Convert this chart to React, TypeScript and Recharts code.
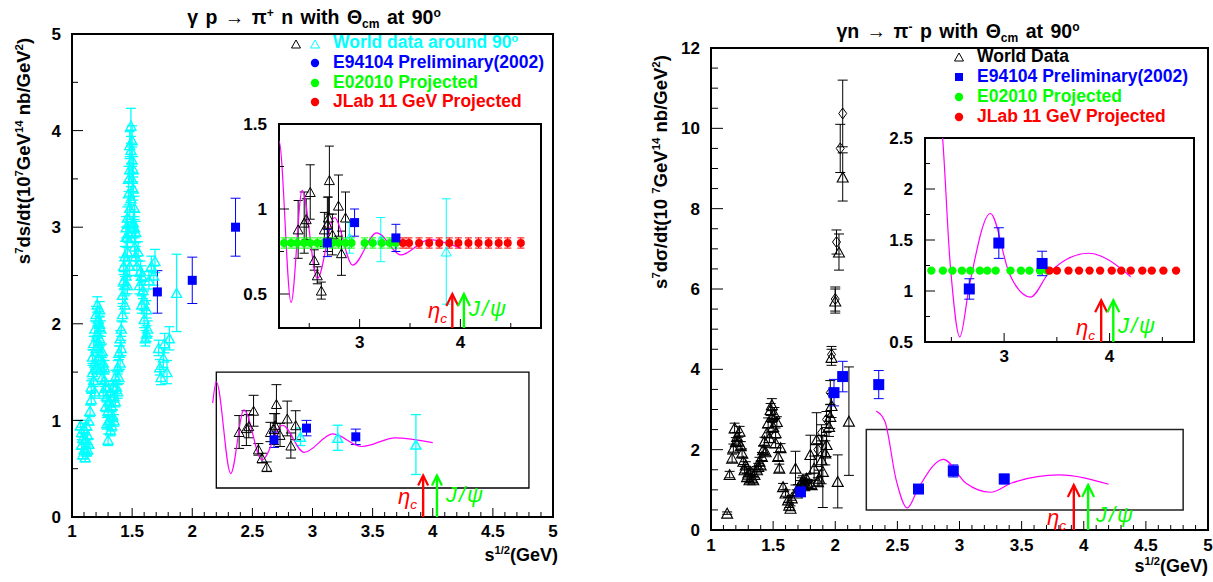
import React from 'react';
import { ComposedChart, Scatter, Line, XAxis, YAxis, ErrorBar, ReferenceArea } from 'recharts';

const FONT = '"Liberation Sans", Arial, Helvetica, sans-serif';
const CYAN = '#00ffff';
const BLUE = '#0000ff';
const GREEN = '#00ff00';
const RED = '#ff0000';
const MAGENTA = '#ff00ff';

type P = { x: number; y: number; e: number };
const pts = (a: number[][]): P[] => a.map(([x, y, e]) => ({ x, y, e: e ?? 0 }));

// ---------- LEFT PANEL : gamma p -> pi+ n ----------
const leftCyanWorld = [
  [1.07,0.95,0.05],[1.08,0.75,0.05],[1.08,0.88,0.05],[1.09,0.65,0.05],[1.09,0.82,0.05],[1.10,0.70,0.05],[1.10,0.92,0.05],
  [1.11,0.80,0.05],[1.11,0.62,0.05],[1.12,0.68,0.05],[1.12,0.95,0.05],[1.13,0.85,0.05],[1.13,0.70,0.05],[1.14,0.76,0.05],
  [1.14,1.00,0.05],[1.15,1.10,0.06],[1.16,1.22,0.06],[1.16,1.35,0.06],[1.17,1.50,0.07],[1.17,1.66,0.07],[1.18,1.80,0.07],
  [1.18,1.42,0.07],[1.19,1.95,0.08],[1.19,1.60,0.07],[1.19,1.30,0.07],[1.20,2.10,0.08],[1.20,1.75,0.08],[1.20,1.55,0.07],
  [1.21,2.20,0.08],[1.21,1.90,0.08],[1.22,2.05,0.08],[1.22,1.80,0.08],[1.22,1.65,0.07],[1.23,1.85,0.08],[1.23,2.15,0.08],
  [1.23,2.00,0.08],[1.24,1.55,0.07],[1.24,1.95,0.08],[1.24,1.70,0.08],[1.25,1.72,0.07],[1.25,1.45,0.07],[1.26,1.60,0.07],
  [1.26,1.30,0.07],[1.27,1.42,0.07],[1.27,1.55,0.07],[1.28,1.15,0.06],[1.28,1.35,0.06],[1.29,1.25,0.06],[1.29,0.97,0.06],
  [1.30,1.10,0.06],[1.30,0.80,0.06],[1.31,1.20,0.06],[1.31,1.00,0.06],[1.32,1.30,0.06],[1.32,0.90,0.06],[1.33,1.15,0.06],
  [1.33,0.95,0.06],[1.34,1.35,0.06],[1.34,1.05,0.06],[1.35,1.25,0.06],[1.35,1.00,0.06],[1.36,1.45,0.07],[1.36,1.20,0.06],
  [1.37,1.35,0.07],[1.38,1.55,0.07],[1.38,1.30,0.07],[1.39,1.70,0.07],[1.39,1.45,0.07],[1.40,1.60,0.07],[1.40,1.85,0.08],
  [1.41,1.95,0.08],[1.41,1.75,0.08],[1.42,2.10,0.08],[1.42,2.30,0.09],[1.43,2.45,0.09],[1.43,2.60,0.09],[1.44,2.70,0.10],
  [1.44,2.20,0.09],[1.44,2.40,0.09],[1.45,2.90,0.10],[1.45,2.50,0.10],[1.45,3.00,0.11],[1.46,3.10,0.11],[1.46,2.75,0.10],
  [1.46,2.90,0.11],[1.46,2.40,0.09],[1.47,3.35,0.12],[1.47,2.95,0.11],[1.47,3.50,0.13],[1.48,3.60,0.13],[1.48,3.20,0.12],
  [1.48,3.85,0.14],[1.48,2.60,0.10],[1.49,3.80,0.14],[1.49,4.05,0.18],[1.49,3.30,0.12],[1.50,3.50,0.13],[1.50,3.70,0.13],
  [1.50,3.90,0.15],[1.50,3.00,0.11],[1.51,3.40,0.12],[1.51,3.05,0.11],[1.51,3.60,0.13],[1.52,3.20,0.12],[1.52,2.80,0.11],
  [1.52,3.00,0.11],[1.53,2.95,0.11],[1.53,2.70,0.10],[1.54,2.60,0.10],[1.55,2.75,0.10],[1.56,2.40,0.09],[1.57,2.55,0.10],
  [1.58,2.20,0.09],[1.58,2.50,0.10],[1.59,2.35,0.09],[1.60,2.05,0.09],[1.60,2.25,0.09],[1.61,1.85,0.08],[1.62,2.15,0.09],
  [1.62,1.90,0.08],[1.63,1.95,0.08],[1.64,2.45,0.09],[1.66,2.60,0.10],[1.68,2.50,0.10],[1.69,2.65,0.12],[1.72,1.75,0.08],
  [1.73,1.55,0.08],[1.74,1.45,0.08],[1.76,1.65,0.10],[1.77,1.80,0.10],[1.79,1.50,0.12],[1.81,1.85,0.12],[1.87,2.32,0.40],
  [2.90,0.83,0.09],[3.21,0.82,0.13],[3.86,0.75,0.31],
];
const leftBlackWorld = [
  [2.39,0.88,0.17],[2.45,0.92,0.18],[2.47,0.94,0.12],[2.51,1.10,0.16],[2.55,0.70,0.06],[2.58,0.61,0.05],[2.62,0.52,0.05],
  [2.65,0.88,0.10],[2.68,0.91,0.16],[2.69,0.95,0.12],[2.70,1.17,0.20],[2.73,0.85,0.12],[2.79,1.02,0.18],[2.82,0.74,0.13],
  [2.86,0.95,0.15],
];
const leftE94104 = [[1.71,2.33,0.22],[2.00,2.45,0.24],[2.36,3.00,0.30],[2.68,0.80,0.08],[2.95,0.92,0.08],[3.36,0.83,0.08]];
const leftE02010X = [2.25,2.32,2.38,2.45,2.51,2.58,2.64,2.73,2.79,2.86,2.92,3.05,3.13,3.22,3.30,3.36];
const leftJLabX = [3.43,3.49,3.59,3.69,3.79,3.89,3.98,4.08,4.18,4.28,4.38,4.47,4.60];
const leftProjectedY = 0.8;
const leftCurve = [[2.17,1.18],[2.20,1.40],[2.32,0.45],[2.43,1.11],[2.58,0.59],[2.75,0.95],[2.93,0.67],[3.17,0.86],[3.41,0.73],[3.69,0.82],[4.00,0.77]];

// ---------- RIGHT PANEL : gamma n -> pi- p ----------
const rightTriWorld = [
  [1.13,0.42,0.03],[1.15,1.38,0.08],[1.17,1.79,0.10],[1.18,2.04,0.10],[1.19,2.54,0.12],[1.20,2.20,0.10],[1.21,2.33,0.10],
  [1.22,2.21,0.10],[1.23,2.46,0.12],[1.24,2.10,0.10],[1.25,1.92,0.10],[1.26,1.71,0.08],[1.27,1.50,0.08],[1.28,1.62,0.08],
  [1.29,1.33,0.08],[1.30,1.42,0.08],[1.31,1.25,0.08],[1.32,1.46,0.08],[1.33,1.30,0.08],[1.34,1.25,0.08],[1.35,1.38,0.08],
  [1.37,1.50,0.08],[1.38,1.58,0.08],[1.39,1.71,0.10],[1.40,1.62,0.10],[1.41,1.83,0.10],[1.42,2.00,0.10],[1.43,2.21,0.10],
  [1.44,1.95,0.10],[1.45,2.42,0.12],[1.46,2.67,0.12],[1.47,2.30,0.12],[1.48,3.00,0.15],[1.49,3.12,0.15],[1.49,2.83,0.15],
  [1.50,2.58,0.15],[1.51,2.90,0.15],[1.52,2.42,0.12],[1.52,2.17,0.12],[1.53,2.70,0.12],[1.54,1.83,0.10],[1.55,1.54,0.10],
  [1.56,2.05,0.10],[1.58,1.08,0.08],[1.60,0.92,0.08],[1.62,0.75,0.06],[1.63,0.62,0.06],[1.64,0.54,0.06],[1.65,0.80,0.06],
  [1.68,1.54,0.42],[1.69,0.92,0.08],[1.70,1.05,0.08],[1.72,1.13,0.10],[1.73,1.20,0.10],[1.74,1.25,0.10],[1.75,1.10,0.10],
  [1.76,1.17,0.10],[1.77,1.29,0.10],[1.78,1.15,0.10],[1.80,1.88,0.48],[1.81,1.13,0.10],[1.83,1.54,0.30],[1.85,2.25,0.67],
  [1.86,1.20,0.10],[1.87,1.29,0.20],[1.89,1.75,0.60],[1.90,1.46,0.90],[1.92,1.92,0.30],[1.93,2.13,0.30],[1.95,2.58,0.25],
  [1.96,2.83,0.30],[1.97,3.10,0.30],[1.97,4.30,0.20],[2.00,5.70,0.30],[2.02,1.21,0.66],[2.03,6.92,0.45],[2.06,8.79,0.60],
  [2.11,2.71,1.35],
];
const rightDiaWorld = [[1.86,2.00,0.15],[1.89,2.42,0.20],[1.93,2.75,0.20],[1.96,3.42,0.30],[1.97,4.37,0.20],[2.00,5.75,0.30],[2.01,7.17,0.30],[2.04,9.50,0.60],[2.06,10.37,0.83]];
const rightE94104 = [[1.72,0.95,0.08],[1.99,3.42,0.33],[2.06,3.82,0.38],[2.35,3.62,0.35],[2.67,1.02,0.10],[2.95,1.47,0.15],[3.36,1.27,0.12]];
const rightE02010X = [2.31,2.42,2.51,2.60,2.68,2.77,2.84,2.92,3.06,3.16,3.24,3.34,3.41];
const rightJLabX = [3.43,3.50,3.61,3.71,3.81,3.91,4.02,4.11,4.20,4.31,4.40,4.51,4.63];
const rightProjectedY = 1.2;
const rightCurve = [[2.33,2.96],[2.40,2.70],[2.49,1.25],[2.58,0.55],[2.67,1.05],[2.87,1.76],[3.05,1.17],[3.25,0.94],[3.42,1.17],[3.80,1.37],[4.20,1.14]];

// thresholds (arrows): eta_c and J/psi
const etaCX = 3.92;
const jpsiX = 4.035;
const leftMainArrowTip = 0.43;
const leftInsetArrowTip = 0.5;
const rightMainArrowTip = 1.12;
const rightInsetArrowTip = 0.91;

// tick labels
const mainXMajor = [1, 1.5, 2, 2.5, 3, 3.5, 4, 4.5, 5];
const leftYMajor = [0, 1, 2, 3, 4, 5];
const rightYMajor = [0, 2, 4, 6, 8, 10, 12];
const insetXMajor = [3, 4];
const leftInsetYMajor = [0.5, 1, 1.5];
const rightInsetYMajor = [0.5, 1, 1.5, 2, 2.5];

const steps = (a: number, b: number, s: number) => {
  const out: number[] = [];
  for (let v = a; v <= b + 1e-9; v += s) out.push(Math.round(v * 1000) / 1000);
  return out;
};

const toXY = (a: number[][]) => a.map(([x, y]) => ({ x, y }));
const flat = (xs: number[], y: number) => xs.map((x) => ({ x, y, e: 0.03 }));

// ---------- shapes ----------
const triShape = (color: string, w: number, h: number, sw = 1) => (p: any) => {
  const { cx, cy } = p;
  if (cx == null || cy == null) return <g />;
  return <path d={`M${cx - w / 2},${cy + h / 2}L${cx + w / 2},${cy + h / 2}L${cx},${cy - h / 2}Z`} fill="#fff" fillOpacity={0} stroke={color} strokeWidth={sw} />;
};
const diaShape = (color: string, w: number, h: number) => (p: any) => {
  const { cx, cy } = p;
  if (cx == null || cy == null) return <g />;
  return <path d={`M${cx},${cy - h / 2}L${cx + w / 2},${cy}L${cx},${cy + h / 2}L${cx - w / 2},${cy}Z`} fill="none" stroke={color} strokeWidth={1} />;
};
const sqShape = (color: string, s: number) => (p: any) => {
  const { cx, cy } = p;
  if (cx == null || cy == null) return <g />;
  return <rect x={cx - s / 2} y={cy - s / 2} width={s} height={s} fill={color} />;
};
const dotShape = (color: string, r: number) => (p: any) => {
  const { cx, cy } = p;
  if (cx == null || cy == null) return <g />;
  return <circle cx={cx} cy={cy} r={r} fill={color} />;
};
const headShape = (color: string, hw: number, hh: number) => (p: any) => {
  const { cx, cy } = p;
  if (cx == null || cy == null) return <g />;
  return <path d={`M${cx - hw},${cy + hh}L${cx},${cy}L${cx + hw},${cy + hh}`} fill="none" stroke={color} strokeWidth={2.2} />;
};

// ---------- ticks ----------
const makeTick = (axis: 'x' | 'y', majors: number[], majorLen: number, minorLen: number, gap: number, size = 17) => (props: any) => {
  const { x, y, payload } = props;
  const v = payload.value;
  const isMajor = majors.some((m) => Math.abs(m - v) < 1e-6);
  const len = isMajor ? majorLen : minorLen;
  const txt = { fontFamily: FONT, fontWeight: 'bold' as const, fontSize: size, fill: '#000' };
  if (axis === 'x') {
    return (
      <g>
        <line x1={x} y1={y} x2={x} y2={y - len} stroke="#000" strokeWidth={1} />
        {isMajor && <text x={x} y={y + gap} textAnchor="middle" {...txt}>{String(v)}</text>}
      </g>
    );
  }
  return (
    <g>
      <line x1={x} y1={y} x2={x + len} y2={y} stroke="#000" strokeWidth={1} />
      {isMajor && <text x={x - gap} y={y} dy="0.36em" textAnchor="end" {...txt}>{String(v)}</text>}
    </g>
  );
};

// ---------- series helpers ----------
const sc = (key: string, data: any[], shape: any, color: string, cap: number, err = true, ew = 1) => (
  <Scatter key={key} data={data} shape={shape} isAnimationActive={false}>
    {err ? <ErrorBar dataKey="e" direction="y" width={cap} stroke={color} strokeWidth={ew} /> : null}
  </Scatter>
);
const curve = (key: string, data: any[]) => (
  <Line key={key} data={data} dataKey="y" type="monotone" stroke={MAGENTA} strokeWidth={1.2} dot={false} activeDot={false} isAnimationActive={false} />
);
const arrow = (key: string, x: number, base: number, tip: number, color: string, hw: number, hh: number) => [
  <Line key={key + 's'} data={[{ x, y: base }, { x, y: tip }]} dataKey="y" type="linear" stroke={color} strokeWidth={2.4} dot={false} activeDot={false} isAnimationActive={false} />,
  <Scatter key={key + 'h'} data={[{ x, y: tip }]} shape={headShape(color, hw, hh)} isAnimationActive={false} />,
];
const frame = (x1: number, x2: number, y1: number, y2: number, w: number, color = '#000') => (
  <ReferenceArea x1={x1} x2={x2} y1={y1} y2={y2} fill="none" fillOpacity={0} stroke={color} strokeWidth={w} ifOverflow="visible" />
);

// ---------- text helpers ----------
const Sup = ({ children }: any) => <span style={{ fontSize: '0.62em', position: 'relative', top: '-0.6em' }}>{children}</span>;
const Sub = ({ children }: any) => <span style={{ fontSize: '0.62em', position: 'relative', top: '0.35em' }}>{children}</span>;
const T = ({ x, y, size = 17.5, color = '#000', anchor = 'start', italic = false, bold = true, children, rotate = false, ls = 0, ws = 0 }: any) => {
  let tr = anchor === 'middle' ? 'translate(-50%,-50%)' : anchor === 'end' ? 'translate(-100%,-50%)' : 'translate(0,-50%)';
  if (rotate) tr = 'translate(-50%,-50%) rotate(-90deg)';
  return (
    <div style={{ position: 'absolute', left: x, top: y, fontFamily: FONT, fontWeight: bold ? 'bold' : 'normal', fontStyle: italic ? 'italic' : 'normal', fontSize: size, color, whiteSpace: 'nowrap', lineHeight: 1, letterSpacing: ls, wordSpacing: ws, transform: tr }}>
      {children}
    </div>
  );
};
const Mk = ({ x, y, children }: any) => (
  <svg style={{ position: 'absolute', left: x - 7, top: y - 7 }} width={14} height={14}>
    <g transform="translate(7,7)">{children}</g>
  </svg>
);

export default function App() {
  const lCyan = pts(leftCyanWorld);
  const lBlack = pts(leftBlackWorld);
  const lBlue = pts(leftE94104);
  const lGreen = flat(leftE02010X, leftProjectedY);
  const lRed = flat(leftJLabX, leftProjectedY);
  const lCurve = toXY(leftCurve);
  const rTri = pts(rightTriWorld);
  const rDia = pts(rightDiaWorld);
  const rBlue = pts(rightE94104);
  const rGreen = flat(rightE02010X, rightProjectedY);
  const rRed = flat(rightJLabX, rightProjectedY);
  const rCurve = toXY(rightCurve);

  const axisCommon = { type: 'number' as const, interval: 0 as const, tickLine: false, axisLine: false, tickSize: 0, tickMargin: 0, allowDataOverflow: true };
  const greek = { size: 22, italic: true, bold: false };

  return (
    <div style={{ position: 'absolute', left: 0, top: 0, width: 1213, height: 582, background: '#fff', overflow: 'hidden' }}>
      {/* LEFT MAIN */}
      <div style={{ position: 'absolute', left: 0, top: 0 }}>
        <ComposedChart width={600} height={582} margin={{ top: 34, right: 47, bottom: 64, left: 71 }}>
          <XAxis {...axisCommon} dataKey="x" domain={[1, 5]} height={1} ticks={steps(1, 5, 0.1)} tick={makeTick('x', mainXMajor, 9, 5, 20)} />
          <YAxis {...axisCommon} dataKey="y" domain={[0, 5]} width={1} ticks={steps(0, 5, 0.5)} tick={makeTick('y', leftYMajor, 11, 6, 11)} />
          {frame(1, 5, 0, 5, 2)}
          {frame(2.2, 4.8, 0.3, 1.5, 1.3)}
          {sc('lc', lCyan, triShape(CYAN, 10, 9, 1.4), CYAN, 5, true, 1.3)}
          {sc('lk', lBlack, triShape('#000', 10, 9), '#000', 5)}
          {sc('lb', lBlue, sqShape(BLUE, 9), BLUE, 5)}
          {curve('lcv', lCurve)}
          {arrow('la1', etaCX, 0, leftMainArrowTip, RED, 5, 10)}
          {arrow('la2', jpsiX, 0, leftMainArrowTip, GREEN, 5, 10)}
        </ComposedChart>
      </div>

      {/* RIGHT MAIN */}
      <div style={{ position: 'absolute', left: 600, top: 0 }}>
        <ComposedChart width={613} height={582} margin={{ top: 48, right: 5, bottom: 51, left: 110 }}>
          <XAxis {...axisCommon} dataKey="x" domain={[1, 5]} height={1} ticks={steps(1, 5, 0.1)} tick={makeTick('x', mainXMajor, 9, 5, 21)} />
          <YAxis {...axisCommon} dataKey="y" domain={[0, 12]} width={1} ticks={steps(0, 12, 0.5)} tick={makeTick('y', rightYMajor, 12, 7, 11)} />
          {frame(1, 5, 0, 12, 2)}
          {frame(2.25, 4.8, 0.5, 2.5, 1.5, '#222')}
          {sc('rt', rTri, triShape('#000', 11, 10, 1.1), '#000', 5)}
          {sc('rd', rDia, diaShape('#000', 8, 11), '#000', 5)}
          {sc('rb', rBlue, sqShape(BLUE, 11), BLUE, 5)}
          {curve('rcv', rCurve)}
          {arrow('ra1', etaCX, 0, rightMainArrowTip, RED, 6, 12)}
          {arrow('ra2', jpsiX, 0, rightMainArrowTip, GREEN, 6, 12)}
        </ComposedChart>
      </div>

      {/* LEFT INSET */}
      <div style={{ position: 'absolute', left: 230, top: 110 }}>
        <ComposedChart width={330} height={250} margin={{ top: 14, right: 19, bottom: 31, left: 48 }}>
          <XAxis {...axisCommon} dataKey="x" domain={[2.2, 4.8]} height={1} ticks={[2.5, 3, 3.5, 4, 4.5]} tick={makeTick('x', insetXMajor, 9, 5, 20)} />
          <YAxis {...axisCommon} dataKey="y" domain={[0.3, 1.5]} width={1} ticks={[0.5, 0.75, 1, 1.25, 1.5]} tick={makeTick('y', leftInsetYMajor, 10, 5, 12)} />
          {frame(2.2, 4.8, 0.3, 1.5, 2)}
          {sc('ik', lBlack, triShape('#000', 10, 9), '#000', 4.5)}
          {sc('ic', lCyan.filter((d) => d.x > 2.2), triShape(CYAN, 10, 9), CYAN, 4.5)}
          {curve('icv', lCurve)}
          {sc('ig', lGreen, dotShape(GREEN, 4), GREEN, 3.5)}
          {sc('ir', lRed, dotShape(RED, 4), RED, 3.5)}
          {sc('ib', lBlue.filter((d) => d.x > 2.2), sqShape(BLUE, 9), BLUE, 4.5)}
          {arrow('ia1', etaCX, 0.3, leftInsetArrowTip, RED, 6, 12)}
          {arrow('ia2', jpsiX, 0.3, leftInsetArrowTip, GREEN, 6, 12)}
        </ComposedChart>
      </div>

      {/* RIGHT INSET */}
      <div style={{ position: 'absolute', left: 870, top: 125 }}>
        <ComposedChart width={343} height={250} margin={{ top: 13, right: 19, bottom: 32, left: 54 }}>
          <XAxis {...axisCommon} dataKey="x" domain={[2.25, 4.8]} height={1} ticks={[2.5, 3, 3.5, 4, 4.5]} tick={makeTick('x', insetXMajor, 9, 5, 20)} />
          <YAxis {...axisCommon} dataKey="y" domain={[0.5, 2.5]} width={1} ticks={steps(0.5, 2.5, 0.25)} tick={makeTick('y', rightInsetYMajor, 10, 5, 12)} />
          {frame(2.25, 4.8, 0.5, 2.5, 2)}
          {curve('jcv', rCurve)}
          {sc('jg', rGreen, dotShape(GREEN, 4.2), GREEN, 3, false)}
          {sc('jr', rRed, dotShape(RED, 4.2), RED, 3, false)}
          {sc('jb', rBlue.filter((d) => d.x > 2.25), sqShape(BLUE, 11), BLUE, 5)}
          {arrow('ja1', etaCX, 0.5, rightInsetArrowTip, RED, 6, 12)}
          {arrow('ja2', jpsiX, 0.5, rightInsetArrowTip, GREEN, 6, 12)}
        </ComposedChart>
      </div>

      {/* ---------- TEXT : left panel ---------- */}
      <T x={314} y={18} size={19.5} ws={2} anchor="middle">γ p → π<Sup>+</Sup> n with Θ<Sub>cm</Sub> at 90<Sup>o</Sup></T>
      <T x={24} y={151} size={18.5} rotate>s<Sup>7</Sup>ds/dt(10<Sup>7</Sup>GeV<Sup>14</Sup> nb/GeV<Sup>2</Sup>)</T>
      <T x={558} y={555} size={18} anchor="end">s<Sup>1/2</Sup>(GeV)</T>
      <Mk x={296} y={44}><path d="M-4.5,4L4.5,4L0,-4Z" fill="none" stroke="#000" /></Mk>
      <Mk x={315} y={44}><path d="M-4.5,4L4.5,4L0,-4Z" fill="none" stroke={CYAN} /></Mk>
      <T x={333} y={43} color={CYAN}>World data around 90<Sup>o</Sup></T>
      <Mk x={315} y={63}><circle r={4.2} fill={BLUE} /></Mk>
      <T x={333} y={63} color={BLUE}>E94104 Preliminary(2002)</T>
      <Mk x={315} y={83}><circle r={4.2} fill={GREEN} /></Mk>
      <T x={333} y={83} color={GREEN}>E02010 Projected</T>
      <Mk x={315} y={102}><circle r={4.2} fill={RED} /></Mk>
      <T x={333} y={102} color={RED}>JLab 11 GeV Projected</T>
      <T x={398} y={497} color={RED} {...greek}>η<Sub>c</Sub></T>
      <T x={446} y={495} color={GREEN} ls={2} {...greek}>J/ψ</T>
      <T x={428} y={311} color={RED} {...greek}>η<Sub>c</Sub></T>
      <T x={469} y={309} color={GREEN} ls={2} {...greek}>J/ψ</T>

      {/* ---------- TEXT : right panel ---------- */}
      <T x={958} y={32} size={19.5} ws={2} anchor="middle">γn → π<Sup>-</Sup> p with Θ<Sub>cm</Sub> at 90<Sup>o</Sup></T>
      <T x={661} y={172} size={18.5} rotate>s<Sup>7</Sup>dσ/dt(10 <Sup>7</Sup>GeV<Sup>14</Sup> nb/GeV<Sup>2</Sup>)</T>
      <T x={1208} y={566} size={18} anchor="end">s<Sup>1/2</Sup>(GeV)</T>
      <Mk x={959} y={57}><path d="M-4.5,4L4.5,4L0,-4Z" fill="none" stroke="#000" /></Mk>
      <T x={977} y={57}>World Data</T>
      <Mk x={959} y={77}><rect x={-4} y={-4} width={8} height={8} fill={BLUE} /></Mk>
      <T x={977} y={77} color={BLUE}>E94104 Preliminary(2002)</T>
      <Mk x={959} y={97}><circle r={4.2} fill={GREEN} /></Mk>
      <T x={977} y={97} color={GREEN}>E02010 Projected</T>
      <Mk x={959} y={117}><circle r={4.2} fill={RED} /></Mk>
      <T x={977} y={117} color={RED}>JLab 11 GeV Projected</T>
      <T x={1047} y={518} color={RED} {...greek}>η<Sub>c</Sub></T>
      <T x={1096} y={515} color={GREEN} ls={2} {...greek}>J/ψ</T>
      <T x={1076} y={328} color={RED} {...greek}>η<Sub>c</Sub></T>
      <T x={1118} y={326} color={GREEN} ls={2} {...greek}>J/ψ</T>
    </div>
  );
}
